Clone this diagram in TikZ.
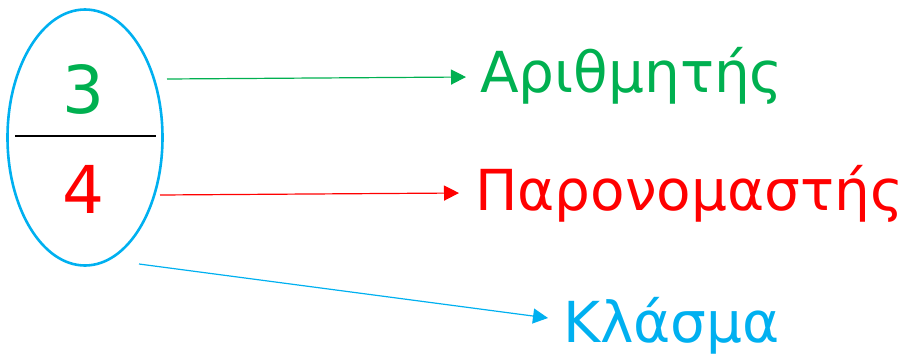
\documentclass[tikz,border=0pt]{standalone}
\usepackage{fontspec}
\setmainfont{DejaVu Sans}
\usetikzlibrary{arrows.meta,shapes.geometric}
\definecolor{cgreen}{HTML}{00B050}
\definecolor{cred}{HTML}{FF0000}
\definecolor{cblue}{HTML}{00B0F0}
\begin{document}
\begin{tikzpicture}[x=1pt,y=1pt,
  lbl/.style={inner sep=0pt,anchor=base west,font=\fontsize{56.5}{60}\selectfont},
  dig/.style={inner sep=0pt,anchor=base,font=\fontsize{66}{70}\selectfont},
  conn/.style={line width=1.2pt,-{Triangle[length=15pt,width=15pt]}}]
\useasboundingbox (0,0) rectangle (915,-356);
\node[draw=cblue,line width=2.6pt,ellipse,minimum width=155pt,minimum height=256pt,inner sep=0pt] (ell) at (85,-137.5) {};
\draw[line width=2pt] (15,-136) coordinate (l1) -- (156,-136) coordinate (l2);
\node[dig,text=cgreen] (n3) at (83,-113) {3};
\node[dig,text=cred] (n4) at (83,-213) {4};
\coordinate (s1) at (167,-79);
\coordinate (s2) at (160,-195);
\coordinate (s3) at (139,-264);
\node[lbl,text=cgreen] (a) at (480,-92) {Αριθμητής};
\node[lbl,text=cred] (p) at (475,-210) {Παρονομαστής};
\node[lbl,text=cblue] (k) at (563,-342) {Κλάσμα};
\coordinate (e1) at (466,-77);
\coordinate (e2) at (459,-193);
\coordinate (e3) at (548,-318);
\draw[conn,cgreen] (s1) -- (e1);
\draw[conn,cred] (s2) -- (e2);
\draw[conn,cblue] (s3) -- (e3);
\end{tikzpicture}
\end{document}
